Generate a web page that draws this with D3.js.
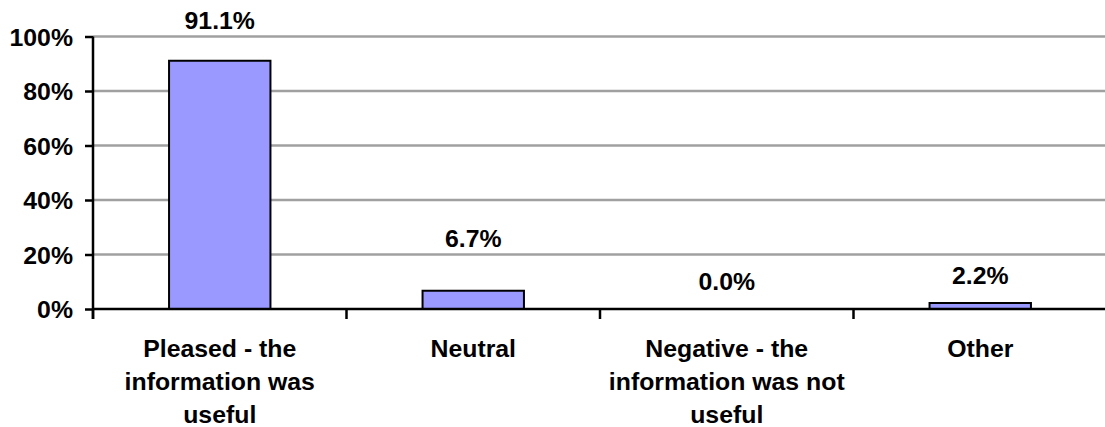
<!DOCTYPE html>
<html>
<head>
<meta charset="utf-8">
<script src="https://cdn.jsdelivr.net/npm/d3@7"></script>
<style>
  html, body { margin: 0; padding: 0; background: #fff; }
  svg { display: block; }
  text { font-family: "Liberation Sans", Arial, sans-serif; font-weight: bold; fill: #000; }
</style>
</head>
<body>
<svg id="chart" width="1105" height="427"></svg>
<script>
// Survey response categories (each label split into its wrapped lines)
const categories = [
  ["Pleased - the", "information was", "useful"],
  ["Neutral"],
  ["Negative - the", "information was not", "useful"],
  ["Other"]
];
// Share of responses, in percent
const values = [91.1, 6.7, 0.0, 2.2];
// Value-axis tick values
const yTicks = [0, 20, 40, 60, 80, 100];

(function drawChart() {
  const svg = d3.select("#chart");
  const plotLeft = 93, plotRight = 1107, plotTop = 36.5, plotBottom = 309;
  const fontSize = 23, stretch = 1.08;

  const x = d3.scaleBand()
    .domain(d3.range(categories.length))
    .range([plotLeft, plotRight])
    .paddingInner(0.6)
    .paddingOuter(0.3);

  const y = d3.scaleLinear().domain([0, 100]).range([plotBottom, plotTop]);

  // Horizontal gridlines
  svg.append("g")
    .selectAll("line")
    .data(yTicks.filter(d => d > 0))
    .join("line")
    .attr("x1", plotLeft).attr("x2", plotRight)
    .attr("y1", d => y(d)).attr("y2", d => y(d))
    .attr("stroke", "#a0a0a0")
    .attr("stroke-width", 2.5);

  // Bars
  svg.append("g")
    .selectAll("rect")
    .data(values)
    .join("rect")
    .attr("x", (d, i) => x(i))
    .attr("width", x.bandwidth())
    .attr("y", d => y(d))
    .attr("height", d => y(0) - y(d))
    .attr("fill", "#9999ff")
    .attr("stroke", "#000")
    .attr("stroke-width", 2);

  // Value axis
  const yAxis = svg.append("g")
    .attr("transform", `translate(${plotLeft},0)`)
    .call(d3.axisLeft(y).tickValues(yTicks).tickSize(8).tickFormat(d => d + "%"));
  yAxis.select(".domain").attr("stroke", "#000").attr("stroke-width", 2.5)
    .attr("d", `M0,${y(100)}V${y(0) + 10}`);
  yAxis.selectAll(".tick line").attr("stroke", "#000").attr("stroke-width", 2.5);
  yAxis.selectAll(".tick text")
    .attr("x", null).attr("dy", null)
    .attr("transform", `translate(-20,8.5) scale(${stretch},1)`)
    .style("font-size", fontSize + "px")
    .style("font-family", '"Liberation Sans", Arial, sans-serif')
    .style("font-weight", "bold")
    .attr("text-anchor", "end");

  // Category axis
  const bounds = d3.range(categories.length + 1).map(i => plotLeft + i * x.step());
  const xAxis = svg.append("g");
  xAxis.append("line")
    .attr("x1", plotLeft).attr("x2", plotRight)
    .attr("y1", y(0)).attr("y2", y(0))
    .attr("stroke", "#000").attr("stroke-width", 2.5);
  xAxis.selectAll("line.tick")
    .data(bounds)
    .join("line")
    .attr("class", "tick")
    .attr("x1", d => d).attr("x2", d => d)
    .attr("y1", y(0)).attr("y2", y(0) + 10)
    .attr("stroke", "#000").attr("stroke-width", 2.5);

  const lineGap = 33;
  categories.forEach((lines, i) => {
    const cx = x(i) + x.bandwidth() / 2;
    lines.forEach((ln, j) => {
      svg.append("text")
        .attr("transform", `translate(${cx},${356.5 + j * lineGap}) scale(${stretch},1)`)
        .attr("text-anchor", "middle")
        .style("font-size", fontSize + "px")
        .text(ln);
    });
  });

  // Value labels above each bar
  const labelLift = [31.5, 44, 19, 19];
  svg.append("g")
    .selectAll("text")
    .data(values)
    .join("text")
    .attr("transform", (d, i) => `translate(${x(i) + x.bandwidth() / 2},${y(d) - labelLift[i]}) scale(${stretch},1)`)
    .attr("text-anchor", "middle")
    .style("font-size", fontSize + "px")
    .text(d => d.toFixed(1) + "%");
})();
</script>
</body>
</html>
